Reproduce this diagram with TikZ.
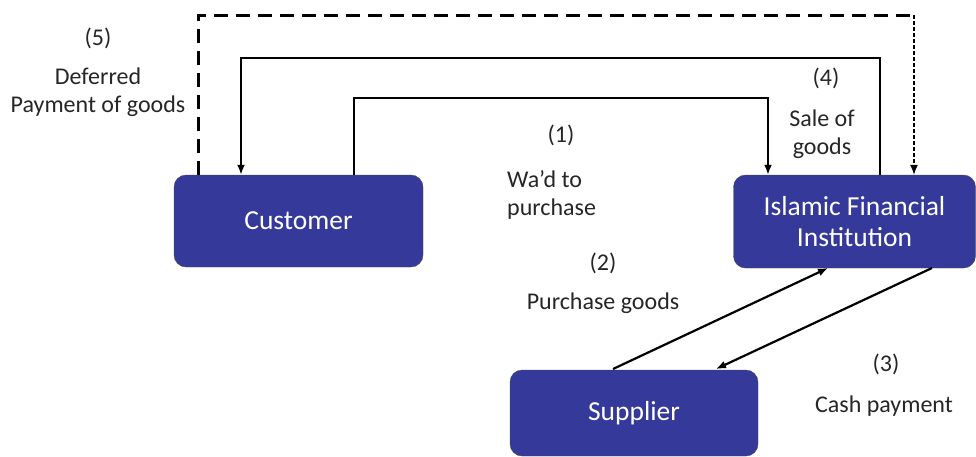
\documentclass[tikz,border=0pt]{standalone}
\usepackage{fontspec}
\setmainfont{Carlito}
\usetikzlibrary{arrows.meta}
\definecolor{boxblue}{HTML}{35399A}
\begin{document}
\begin{tikzpicture}[x=1pt,y=-1pt,
  party/.style={draw=black!70,fill=boxblue,rounded corners=12pt,text=white,font=\fontsize{27.5}{31}\selectfont,align=center,inner sep=0pt},
  lbl/.style={font=\fontsize{24}{28}\selectfont,align=center,inner sep=0pt,text=black!85},
  flow/.style={line width=2.2pt,-{Latex[length=10pt,width=8pt]}},
  thickdash/.style={line width=3pt,dash pattern=on 14pt off 8pt},
  thindash/.style={line width=1.2pt,dash pattern=on 4pt off 2pt,-{Latex[length=10pt,width=8pt]}}]
\useasboundingbox (0,0) rectangle (976,456);
% boxes
\node[party,minimum width=249pt,minimum height=92pt] (cust) at (298.5,221) {Customer};
\node[party,minimum width=242pt,minimum height=93pt] (ifi) at (854.5,221.5) {Islamic Financial\\Institution};
\node[party,minimum width=248pt,minimum height=86pt] (sup) at (634,413) {Supplier};
% corner coordinates
\coordinate (d1) at (198,15);
\coordinate (d2) at (914,15);
\coordinate (s1) at (880,58);
\coordinate (s2) at (241,58);
\coordinate (w1) at (354,98);
\coordinate (w2) at (768,98);
% (5) deferred payment
\draw[thickdash] (cust.north west -| d1) -- (d1) -- (d2);
\draw[thindash] (d2) -- (ifi.north -| d2);
% (4) sale of goods
\draw[flow] (ifi.north -| s1) -- (s1) -- (s2) -- (cust.north -| s2);
% (1) wa'd
\draw[flow] (cust.north -| w1) -- (w1) -- (w2) -- (ifi.north -| w2);
% (2) purchase goods
\coordinate (p1) at (613,369);
\coordinate (p2) at (828,268);
\draw[flow] (p1) -- (p2);
% (3) cash payment
\coordinate (c1) at (932,268);
\coordinate (c2) at (716,369);
\draw[flow] (c1) -- (c2);
% labels
\node[lbl] (l5) at (98,38) {(5)};
\node[lbl] (l5t) at (98,92) {Deferred\\Payment of goods};
\node[lbl] (l4) at (826,78) {(4)};
\node[lbl] (l4t) at (822,134) {Sale of\\goods};
\node[lbl] (l1) at (561,135) {(1)};
\node[lbl,align=left,anchor=west] (l1t) at (507,195) {Wa’d to\\purchase};
\node[lbl] (l2) at (603,263) {(2)};
\node[lbl] (l2t) at (603,303) {Purchase goods};
\node[lbl] (l3) at (886,364) {(3)};
\node[lbl] (l3t) at (884,406) {Cash payment};
\end{tikzpicture}
\end{document}
